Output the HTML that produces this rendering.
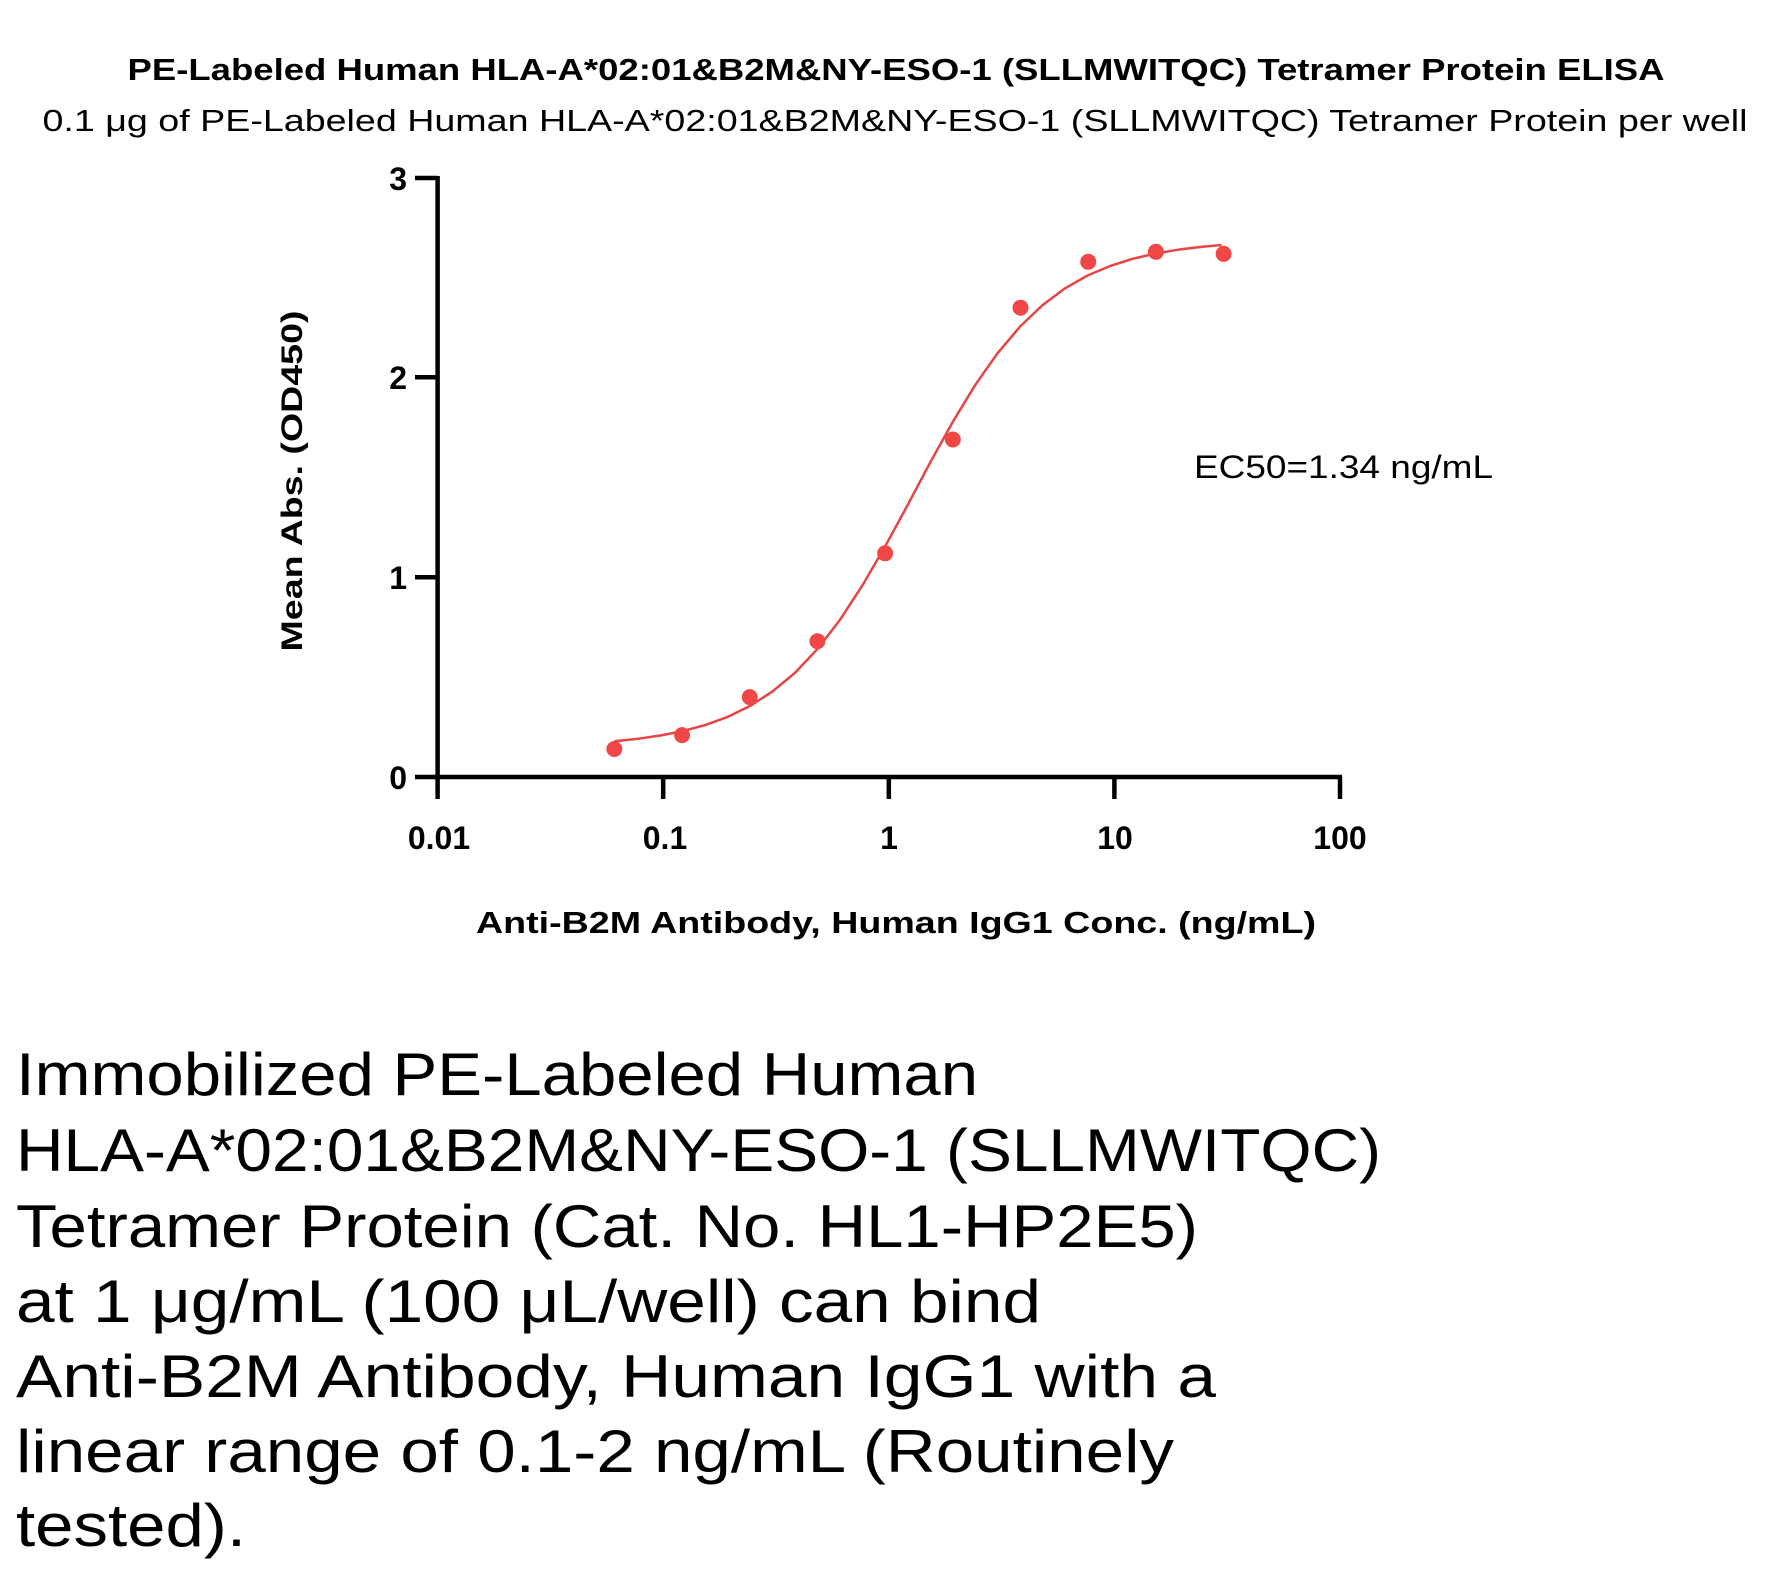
<!DOCTYPE html>
<html><head><meta charset="utf-8"><style>
html,body{margin:0;padding:0;background:#fff;}
svg{display:block;}
text{font-family:"Liberation Sans",sans-serif;fill:#000;}
</style></head><body>
<svg width="1776" height="1570" viewBox="0 0 1776 1570" xmlns="http://www.w3.org/2000/svg">
<text x="896" y="80" text-anchor="middle" font-size="31" font-weight="bold" textLength="1537" lengthAdjust="spacingAndGlyphs">PE-Labeled Human HLA-A*02:01&amp;B2M&amp;NY-ESO-1 (SLLMWITQC) Tetramer Protein ELISA</text>
<text x="895" y="131" text-anchor="middle" font-size="31" textLength="1705" lengthAdjust="spacingAndGlyphs">0.1 μg of PE-Labeled Human HLA-A*02:01&amp;B2M&amp;NY-ESO-1 (SLLMWITQC) Tetramer Protein per well</text>
<g stroke="#000" stroke-width="4.5" fill="none">
<line x1="437.6" y1="176" x2="437.6" y2="779"/>
<line x1="435.5" y1="777" x2="1342" y2="777"/>
<line x1="415" y1="178" x2="437.6" y2="178"/>
<line x1="415" y1="377.3" x2="437.6" y2="377.3"/>
<line x1="415" y1="577.3" x2="437.6" y2="577.3"/>
<line x1="415" y1="777" x2="437.6" y2="777"/>
<line x1="437.6" y1="777" x2="437.6" y2="799"/>
<line x1="663.2" y1="777" x2="663.2" y2="799"/>
<line x1="888.8" y1="777" x2="888.8" y2="799"/>
<line x1="1114.4" y1="777" x2="1114.4" y2="799"/>
<line x1="1340" y1="777" x2="1340" y2="799"/>
</g>
<g font-size="32" font-weight="bold" text-anchor="end">
<text x="407" y="190">3</text><text x="407" y="389">2</text><text x="407" y="589">1</text><text x="407" y="789">0</text>
</g>
<g font-size="32" font-weight="bold" text-anchor="middle">
<text x="439" y="849">0.01</text><text x="665" y="849">0.1</text><text x="889" y="849">1</text><text x="1115" y="849">10</text><text x="1340" y="849">100</text>
</g>
<text x="896" y="933" text-anchor="middle" font-size="31" font-weight="bold" textLength="840" lengthAdjust="spacingAndGlyphs">Anti-B2M Antibody, Human IgG1 Conc. (ng/mL)</text>
<text transform="translate(302,481) rotate(-90)" text-anchor="middle" font-size="30" font-weight="bold" textLength="341" lengthAdjust="spacingAndGlyphs">Mean Abs. (OD450)</text>
<text x="1194" y="478" font-size="32" textLength="299" lengthAdjust="spacingAndGlyphs">EC50=1.34 ng/mL</text>
<g transform="translate(-1,0) scale(0.997,1)">
<polyline fill="none" stroke="#e84444" stroke-width="2.5" stroke-linejoin="round" points="617.2,741.2 640.6,738.8 663.2,735.5 685.8,731.1 708.3,725.1 730.9,716.9 753.4,705.9 776.0,691.3 798.6,672.6 821.1,648.8 843.7,619.6 866.2,585.1 888.8,546.3 911.4,505.0 933.9,462.7 956.5,422.1 979.0,385.2 1001.6,353.2 1024.2,326.5 1046.7,305.1 1069.3,288.3 1091.8,275.5 1114.4,266.0 1137.0,258.8 1159.5,253.6 1182.1,249.8 1204.6,247.0 1226.1,245.0"/>
<g fill="#f04646">
<circle cx="617.2" cy="749.0" r="8"/>
<circle cx="685.1" cy="735.1" r="8"/>
<circle cx="753.0" cy="697.1" r="8"/>
<circle cx="820.9" cy="641.2" r="8"/>
<circle cx="888.8" cy="553.3" r="8"/>
<circle cx="956.7" cy="439.5" r="8"/>
<circle cx="1024.6" cy="307.7" r="8"/>
<circle cx="1092.5" cy="261.8" r="8"/>
<circle cx="1160.4" cy="251.8" r="8"/>
<circle cx="1228.3" cy="253.8" r="8"/>
</g>
</g>
<g font-size="60">
<text x="16" y="1095" textLength="962" lengthAdjust="spacingAndGlyphs">Immobilized PE-Labeled Human</text>
<text x="16" y="1171" textLength="1365" lengthAdjust="spacingAndGlyphs">HLA-A*02:01&amp;B2M&amp;NY-ESO-1 (SLLMWITQC)</text>
<text x="16" y="1247" textLength="1182" lengthAdjust="spacingAndGlyphs">Tetramer Protein (Cat. No. HL1-HP2E5)</text>
<text x="16" y="1322" textLength="1025" lengthAdjust="spacingAndGlyphs">at 1 μg/mL (100 μL/well) can bind</text>
<text x="16" y="1397" textLength="1200" lengthAdjust="spacingAndGlyphs">Anti-B2M Antibody, Human IgG1 with a</text>
<text x="16" y="1472" textLength="1158" lengthAdjust="spacingAndGlyphs">linear range of 0.1-2 ng/mL (Routinely</text>
<text x="16" y="1546" textLength="230" lengthAdjust="spacingAndGlyphs">tested).</text>
</g>
</svg>
</body></html>
